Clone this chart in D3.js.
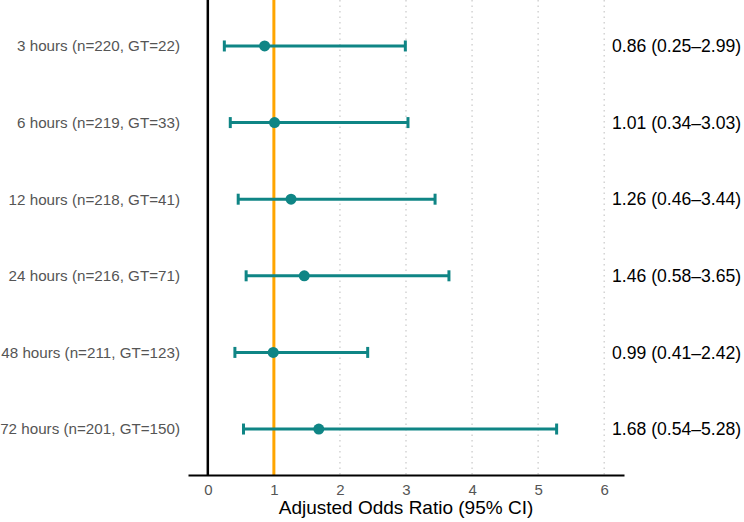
<!DOCTYPE html>
<html>
<head>
<meta charset="utf-8">
<script src="https://cdn.jsdelivr.net/npm/d3@7"></script>
<style>
  body { margin: 0; background: #fff; }
  svg { font-family: "Liberation Sans", Arial, sans-serif; }
</style>
</head>
<body>
<div id="chart"></div>
<script>
const labels = [
  '3 hours (n=220, GT=22)',
  '6 hours (n=219, GT=33)',
  '12 hours (n=218, GT=41)',
  '24 hours (n=216, GT=71)',
  '48 hours (n=211, GT=123)',
  '72 hours (n=201, GT=150)'
];
const or = [0.86, 1.01, 1.26, 1.46, 0.99, 1.68];
const lower = [0.25, 0.34, 0.46, 0.58, 0.41, 0.54];
const upper = [2.99, 3.03, 3.44, 3.65, 2.42, 5.28];
const xTicks = [0, 1, 2, 3, 4, 5, 6];

const data = labels.map((l, i) => ({ label: l, or: or[i], lo: lower[i], hi: upper[i] }));

const width = 744, height = 522;
const teal = '#0f8585';
const plotLeft = 188, plotRight = 624, plotTop = 0, plotBottom = 475;

const svg = d3.select('#chart').append('svg')
  .attr('width', width)
  .attr('height', height);

const x = d3.scaleLinear().domain([-0.3, 6.3]).range([plotLeft, plotRight]);
// discrete rows with ggplot style expansion (0.6 units each side)
const y = d3.scaleLinear().domain([0.4, 6.6]).range([plotTop, plotBottom]);

// dotted grid
svg.selectAll('.grid')
  .data(xTicks.filter(d => d >= 2))
  .enter().append('line')
  .attr('x1', d => x(d)).attr('x2', d => x(d))
  .attr('y1', plotTop).attr('y2', plotBottom)
  .attr('stroke', '#c8c8c8')
  .attr('stroke-width', 1.2)
  .attr('stroke-dasharray', '1.5,4');

// zero line
svg.append('line')
  .attr('x1', x(0)).attr('x2', x(0))
  .attr('y1', plotTop).attr('y2', plotBottom)
  .attr('stroke', '#000').attr('stroke-width', 2.5);

// reference line at 1
svg.append('line')
  .attr('x1', x(1)).attr('x2', x(1))
  .attr('y1', plotTop).attr('y2', plotBottom)
  .attr('stroke', '#FFA500').attr('stroke-width', 3);

// x axis
const xAxis = svg.append('g')
  .attr('transform', `translate(0,${plotBottom})`)
  .call(d3.axisBottom(x).tickValues(xTicks).tickFormat(d3.format('d')).tickSize(0).tickPadding(9));
xAxis.select('.domain').attr('stroke', '#000').attr('stroke-width', 2);
xAxis.selectAll('text')
  .attr('fill', '#555')
  .style('font-size', '15px')
  .style('font-family', '"Liberation Sans", Arial, sans-serif');

svg.append('text')
  .attr('x', (plotLeft + plotRight) / 2)
  .attr('y', 514)
  .attr('text-anchor', 'middle')
  .attr('fill', '#000')
  .style('font-size', '19px')
  .text('Adjusted Odds Ratio (95% CI)');

const row = svg.selectAll('.row')
  .data(data)
  .enter().append('g')
  .attr('transform', (d, i) => `translate(0,${y(i + 1)})`);

row.append('line')
  .attr('x1', d => x(d.lo)).attr('x2', d => x(d.hi))
  .attr('stroke', teal).attr('stroke-width', 3);

row.append('line')
  .attr('x1', d => x(d.lo)).attr('x2', d => x(d.lo))
  .attr('y1', -5.5).attr('y2', 5.5)
  .attr('stroke', teal).attr('stroke-width', 3);

row.append('line')
  .attr('x1', d => x(d.hi)).attr('x2', d => x(d.hi))
  .attr('y1', -5.5).attr('y2', 5.5)
  .attr('stroke', teal).attr('stroke-width', 3);

row.append('circle')
  .attr('cx', d => x(d.or))
  .attr('r', 5.5)
  .attr('fill', teal);

row.append('text')
  .attr('x', 180)
  .attr('dy', '0.35em')
  .attr('text-anchor', 'end')
  .attr('fill', '#555')
  .style('font-size', '15.2px')
  .text(d => d.label);

row.append('text')
  .attr('x', 612)
  .attr('dy', '0.35em')
  .attr('fill', '#000')
  .style('font-size', '17.6px')
  .text(d => `${d.or.toFixed(2)} (${d.lo.toFixed(2)}\u2013${d.hi.toFixed(2)})`);
</script>
</body>
</html>
